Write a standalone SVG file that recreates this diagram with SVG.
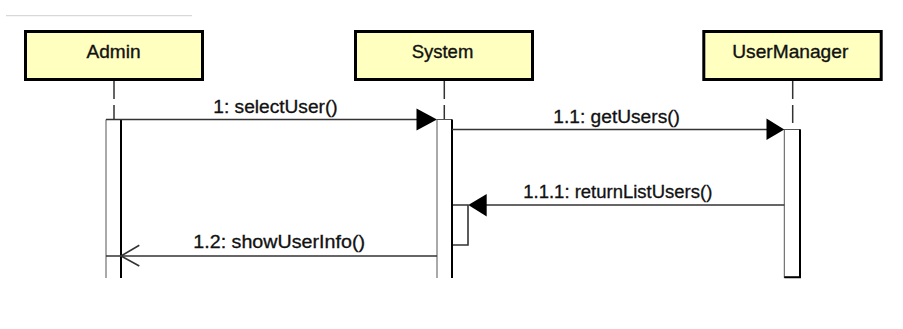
<svg xmlns="http://www.w3.org/2000/svg" width="903" height="329" viewBox="0 0 903 329">
  <style>
    .head { fill: #ffffc0; stroke: #000; stroke-width: 3; }
    .name { font-family: "Liberation Sans", Arial, sans-serif; font-size: 18.5px; fill: #111; stroke: #111; stroke-width: 0.35; text-anchor: middle; }
    .life { stroke: #333; stroke-width: 1.5; stroke-dasharray: 18 6; fill: none; }
    .act { fill: #fff; stroke: #555; stroke-width: 1; }
    .shade { stroke: #000; stroke-width: 2; fill: none; }
    .msg { stroke: #333; stroke-width: 1.6; fill: none; }
    .head-fill { fill: #000; stroke: none; }
    .lbl { font-family: "Liberation Sans", Arial, sans-serif; font-size: 17.5px; fill: #111; stroke: #111; stroke-width: 0.3; }
  </style>

  <rect width="903" height="329" fill="#fff"/>
  <line x1="6" y1="15.7" x2="192" y2="15.7" stroke="#cfcfcf" stroke-width="1"/>

  <g id="admin">
    <line class="life" x1="114" y1="81" x2="114" y2="120"/>
    <rect class="head" x="25.5" y="31.5" width="177" height="48"/>
    <text class="name" x="113.5" y="58.3" textLength="54" lengthAdjust="spacingAndGlyphs">Admin</text>
    <rect x="106" y="119.5" width="15" height="158.5" fill="#fff"/>
    <line x1="106" y1="119.5" x2="106" y2="278" stroke="#555" stroke-width="1"/>
    <line class="shade" x1="121" y1="119.5" x2="121" y2="278"/>
  </g>

  <g id="system">
    <line class="life" x1="444.3" y1="81" x2="444.3" y2="120"/>
    <rect class="head" x="355.5" y="31.5" width="177" height="48"/>
    <text class="name" x="442.5" y="58.3" textLength="61.6" lengthAdjust="spacingAndGlyphs">System</text>
    <!-- nested activation for the returned list -->
    <polyline class="msg" points="452,205 468,205 468,245 452,245" stroke="#000"/>
    <rect x="437" y="119.5" width="15" height="158.5" fill="#fff"/>
    <line x1="437" y1="119.5" x2="437" y2="278" stroke="#555" stroke-width="1"/>
    <line x1="437" y1="119.5" x2="452" y2="119.5" stroke="#555" stroke-width="1"/>
    <line class="shade" x1="452" y1="119.5" x2="452" y2="278"/>
  </g>

  <g id="usermanager">
    <line class="life" x1="792.7" y1="81" x2="792.7" y2="129.5"/>
    <rect class="head" x="703.8" y="31.5" width="177.4" height="48"/>
    <text class="name" x="790.3" y="58.3" textLength="116" lengthAdjust="spacingAndGlyphs">UserManager</text>
    <rect class="act" x="784.3" y="129.5" width="15.7" height="147.8"/>
    <polyline class="shade" points="800,129.5 800,277.3 784.3,277.3"/>
  </g>

  <g id="connectors">
    <!-- 1: selectUser() -->
    <line class="msg" x1="106" y1="119.5" x2="418" y2="119.5"/>
    <polygon class="head-fill" points="416.5,108.5 437,119.5 416.5,130.5"/>
    <text class="lbl" x="213.3" y="113.3" textLength="124.4" lengthAdjust="spacingAndGlyphs">1: selectUser()</text>

    <!-- 1.1: getUsers() -->
    <line class="msg" x1="452" y1="129.5" x2="767" y2="129.5"/>
    <polygon class="head-fill" points="766.5,118.5 784.3,129.5 766.5,140"/>
    <text class="lbl" x="553.3" y="123.3" textLength="126.7" lengthAdjust="spacingAndGlyphs">1.1: getUsers()</text>

    <!-- 1.1.1: returnListUsers() -->
    <line class="msg" x1="784.3" y1="205" x2="486" y2="205"/>
    <polygon class="head-fill" points="486.7,194 468.3,205 486.7,216.5"/>
    <text class="lbl" x="523.3" y="198.3" textLength="189" lengthAdjust="spacingAndGlyphs">1.1.1: returnListUsers()</text>

    <!-- 1.2: showUserInfo() -->
    <line class="msg" x1="106" y1="256" x2="437" y2="256"/>
    <polyline class="msg" points="139.3,245.3 121,256 139.3,266" stroke-width="1.3"/>
    <text class="lbl" x="193.3" y="248.3" textLength="171.7" lengthAdjust="spacingAndGlyphs">1.2: showUserInfo()</text>
  </g>
</svg>
